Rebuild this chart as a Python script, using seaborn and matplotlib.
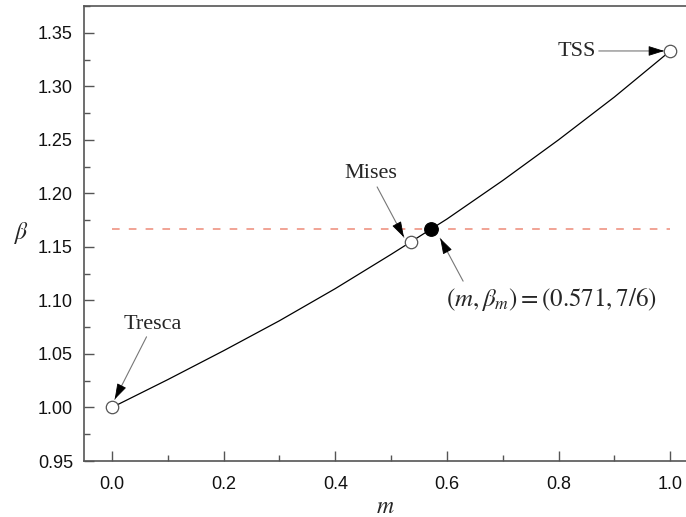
import matplotlib
matplotlib.use("Agg")
import matplotlib.pyplot as plt
import seaborn as sns
import pandas as pd
from matplotlib.ticker import MultipleLocator

# ---- data ----
m_vals = [0.0, 0.1, 0.2, 0.3, 0.4, 0.5, 0.6, 0.7, 0.8, 0.9, 1.0]
beta_vals = [1.000, 1.026, 1.053, 1.081, 1.111, 1.143, 1.176, 1.212, 1.250, 1.290, 1.333]

open_m = [0.0, 0.536, 1.0]
open_beta = [1.000, 1.155, 1.333]
open_names = ["Tresca", "Mises", "TSS"]

crit_m = [0.571]
crit_beta = [7 / 6]

ref_m = [0.0, 1.0]
ref_beta = [7 / 6, 7 / 6]

formula_label = r"$\left(m,\beta_m\right)=\left(0.571,7/6\right)$"

sns.set_style("ticks")
plt.rcParams["font.family"] = ["Liberation Sans", "DejaVu Sans"]
plt.rcParams["mathtext.fontset"] = "stix"

fig = plt.figure(figsize=(6.86, 5.17), dpi=100)
ax = fig.add_axes([84 / 686, 56 / 517, (686 - 84 + 1) / 686, (461 - 6) / 517])

curve = pd.DataFrame({"m": m_vals, "beta": beta_vals})
ref = pd.DataFrame({"m": ref_m, "beta": ref_beta})
pts_open = pd.DataFrame({"m": open_m, "beta": open_beta})
pts_crit = pd.DataFrame({"m": crit_m, "beta": crit_beta})

sns.lineplot(data=ref, x="m", y="beta", ax=ax, color="#ee8a78", lw=1.1,
             dashes=False, zorder=1)
ax.lines[-1].set_dashes([5, 6])
sns.lineplot(data=curve, x="m", y="beta", ax=ax, color="black", lw=0.9, zorder=2)
sns.scatterplot(data=pts_open, x="m", y="beta", ax=ax, s=80, color="white",
                edgecolor="#555555", linewidth=0.9, zorder=4)
sns.scatterplot(data=pts_crit, x="m", y="beta", ax=ax, s=95, color="black",
                edgecolor="black", linewidth=0.9, zorder=4)

ax.set_xlim(-0.05, 1.03)
ax.set_ylim(0.95, 1.375)
ax.xaxis.set_minor_locator(MultipleLocator(0.1))
ax.yaxis.set_minor_locator(MultipleLocator(0.025))
ax.set_xticks([0.0, 0.2, 0.4, 0.6, 0.8, 1.0])
ax.set_xticklabels(["0.0", "0.2", "0.4", "0.6", "0.8", "1.0"])
yt = [0.95, 1.00, 1.05, 1.10, 1.15, 1.20, 1.25, 1.30, 1.35]
ax.set_yticks(yt)
ax.set_yticklabels([f"{v:.2f}" for v in yt])

ax.tick_params(which="major", direction="in", length=7, width=1.0,
               color="#555555", labelsize=13, labelcolor="#111111")
ax.tick_params(axis="x", which="major", pad=11)
ax.tick_params(axis="y", which="major", pad=8)
ax.tick_params(which="minor", direction="in", length=4, width=1.0, color="#555555")
for side in ["top", "right"]:
    ax.spines[side].set_visible(True)
for sp in ax.spines.values():
    sp.set_color("#555555")
    sp.set_linewidth(1.2)

ax.set_xlabel(r"$m$", fontsize=17, labelpad=2)
ax.set_ylabel(r"$\beta$", fontsize=17, rotation=0, labelpad=12, va="center")


def arrow(tail, tip, frac=0.18):
    ax.annotate("", xy=tip, xytext=tail,
                arrowprops=dict(arrowstyle="-", color="#777777", lw=0.8,
                                shrinkA=0, shrinkB=0), zorder=5)
    mid = (tip[0] + (tail[0] - tip[0]) * frac, tip[1] + (tail[1] - tip[1]) * frac)
    ax.annotate("", xy=tip, xytext=mid,
                arrowprops=dict(arrowstyle="-|>,head_length=0.7,head_width=0.22",
                                color="black", lw=0.6, shrinkA=0, shrinkB=0,
                                mutation_scale=14), zorder=5)


serif = ["Liberation Serif", "DejaVu Serif"]
ax.text(0.0725, 1.0776, open_names[0], ha="center", va="center", fontsize=16, family=serif)
arrow((0.062, 1.066), (0.005, 1.0076))

ax.text(0.464, 1.219, open_names[1], ha="center", va="center", fontsize=16, family=serif)
arrow((0.475, 1.206), (0.523, 1.159))

ax.text(0.833, 1.3326, open_names[2], ha="center", va="center", fontsize=16, family=serif)
arrow((0.872, 1.333), (0.989, 1.333), frac=0.15)

ax.text(0.788, 1.101, formula_label, ha="center", va="center", fontsize=18)
arrow((0.629, 1.118), (0.588, 1.158))

fig.savefig("out.png", dpi=100)
